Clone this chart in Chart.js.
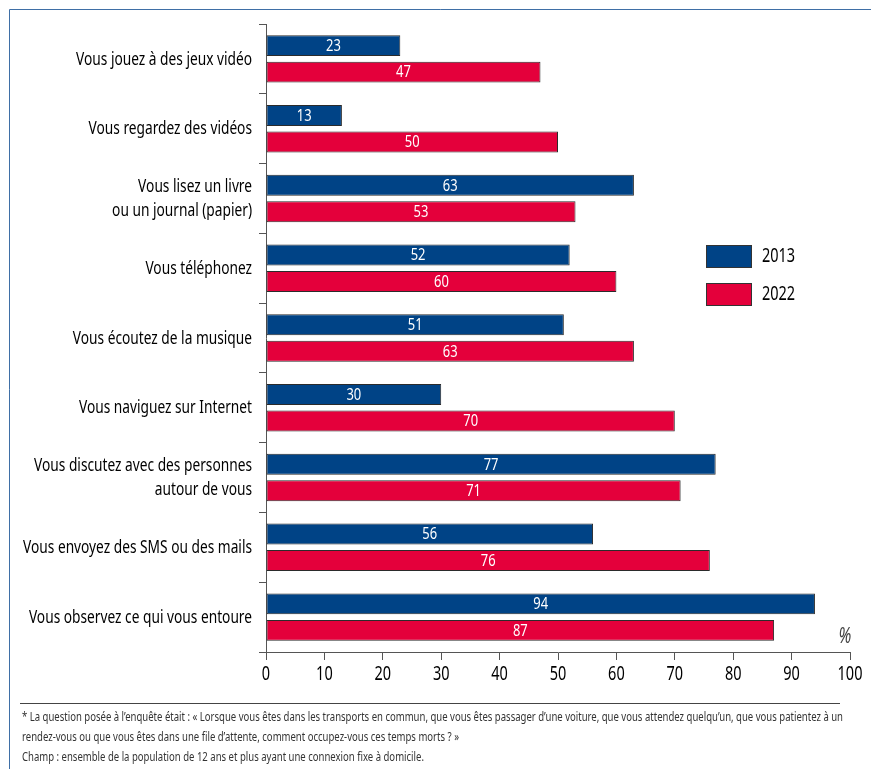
<!DOCTYPE html>
<html><head><meta charset="utf-8">
<script src="https://cdn.jsdelivr.net/npm/chart.js@4.4.1/dist/chart.umd.min.js"></script>
<style>html,body{margin:0;padding:0;background:#fff}#wrap{width:871px;height:769px;position:relative}canvas{display:block}</style>
</head><body><div id="wrap"><canvas id="c" width="871" height="769"></canvas></div>
<script>
const categories = [
  'Vous jouez à des jeux vidéo',
  'Vous regardez des vidéos',
  ['Vous lisez un livre', 'ou un journal (papier)'],
  'Vous téléphonez',
  'Vous écoutez de la musique',
  'Vous naviguez sur Internet',
  ['Vous discutez avec des personnes', 'autour de vous'],
  'Vous envoyez des SMS ou des mails',
  'Vous observez ce qui vous entoure'
];
const values2013 = [23, 13, 63, 52, 51, 30, 77, 56, 94];
const values2022 = [47, 50, 53, 60, 63, 70, 71, 76, 87];
const seriesLabels = ['2013', '2022'];
const seriesColors = ['#004386', '#e4003b'];
const xTickValues = [0, 10, 20, 30, 40, 50, 60, 70, 80, 90, 100];
const unitLabel = '%';
const footnotes = [
  '* La question posée à l\u2019enquête était : « Lorsque vous êtes dans les transports en commun, que vous êtes passager d\u2019une voiture, que vous attendez quelqu\u2019un, que vous patientez à un',
  'rendez-vous ou que vous êtes dans une file d\u2019attente, comment occupez-vous ces temps morts ? »',
  'Champ : ensemble de la population de 12 ans et plus ayant une connexion fixe à domicile.'
];

const FF = "'Noto Sans', 'DejaVu Sans', sans-serif";
let K = 0.72;   // horizontal condensing factor (computed at draw time)
let KF = 0.72;  // footnote condensing factor

function txt(ctx, s, x, y, font, color, align, k) {
  ctx.save();
  ctx.font = font;
  ctx.fillStyle = color;
  ctx.textAlign = align;
  ctx.textBaseline = 'middle';
  ctx.translate(x, y);
  ctx.scale(k, 1);
  ctx.fillText(s, 0, 0);
  ctx.restore();
}

const extras = {
  id: 'extras',
  beforeDraw(chart) {
    const ctx = chart.ctx;
    ctx.save();
    ctx.font = '18px ' + FF;
    K = 176 / ctx.measureText(categories[0]).width;
    ctx.font = '13px ' + FF;
    KF = 821 / ctx.measureText(footnotes[0]).width;
    ctx.restore();
  },
  afterDatasetsDraw(chart) {
    const ctx = chart.ctx;
    chart.data.datasets.forEach((ds, di) => {
      const meta = chart.getDatasetMeta(di);
      meta.data.forEach((el, i) => {
        txt(ctx, String(ds.data[i]), (el.x + el.base) / 2, el.y + 0.5, '17px ' + FF, '#ffffff', 'center', K);
      });
    });
  },
  afterDraw(chart) {
    const ctx = chart.ctx;
    const xs = chart.scales.x, ys = chart.scales.y;
    // y category labels
    categories.forEach((lab, i) => {
      const yc = ys.getPixelForTick(i);
      const lines = Array.isArray(lab) ? lab : [lab];
      const lh = 24;
      lines.forEach((ln, j) => {
        const y = yc - (lines.length - 1) * lh / 2 + j * lh;
        txt(ctx, ln, ys.right - 14, y + 0.5, '18px ' + FF, '#000', 'right', K);
      });
    });
    // x tick labels
    xs.ticks.forEach(t => {
      txt(ctx, String(t.value), xs.getPixelForValue(t.value), 675, '19px ' + FF, '#000', 'center', K);
    });
    ctx.save();
    // frame
    ctx.strokeStyle = '#3f6fa6';
    ctx.lineWidth = 1;
    ctx.beginPath();
    ctx.moveTo(9.5, 769); ctx.lineTo(9.5, 9.5); ctx.lineTo(871, 9.5);
    ctx.stroke();
    // legend
    chart.data.datasets.forEach((ds, i) => {
      const y = 245 + i * 38;
      ctx.fillStyle = ds.backgroundColor;
      ctx.fillRect(706, y, 46, 23);
      ctx.strokeStyle = '#333';
      ctx.strokeRect(706.5, y + 0.5, 45, 22);
      txt(ctx, ds.label, 762, y + 12, '19px ' + FF, '#000', 'left', K);
    });
    // footnote rule
    ctx.strokeStyle = '#444';
    ctx.beginPath();
    ctx.moveTo(20, 703.5); ctx.lineTo(840, 703.5);
    ctx.stroke();
    ctx.restore();
    // unit
    txt(ctx, unitLabel, xs.getPixelForValue(100) - 5, 637, 'italic 21px ' + FF, '#444', 'center', K);
    footnotes.forEach((t, i) => txt(ctx, t, 22, 717 + i * 20, '13px ' + FF, '#333', 'left', KF));
  }
};

new Chart(document.getElementById('c'), {
  type: 'bar',
  data: {
    labels: categories,
    datasets: [
      { label: seriesLabels[0], data: values2013, backgroundColor: seriesColors[0], borderColor: '#2b2b2b', borderWidth: 1, borderSkipped: false },
      { label: seriesLabels[1], data: values2022, backgroundColor: seriesColors[1], borderColor: '#2b2b2b', borderWidth: 1, borderSkipped: false }
    ]
  },
  options: {
    indexAxis: 'y',
    responsive: false,
    animation: false,
    devicePixelRatio: 1,
    categoryPercentage: 0.76,
    barPercentage: 0.79,
    layout: { padding: { top: 24, right: 21, left: 0, bottom: 0 } },
    plugins: { legend: { display: false }, tooltip: { enabled: false } },
    scales: {
      x: {
        type: 'linear', min: 0, max: 100,
        afterBuildTicks(s) { s.ticks = xTickValues.map(v => ({ value: v })); },
        afterFit(s) { s.height = 117; },
        grid: { drawOnChartArea: false, drawTicks: true, tickLength: 8, color: '#555' },
        border: { color: '#555' },
        ticks: { display: false }
      },
      y: {
        type: 'category',
        afterFit(s) { s.width = 266; },
        grid: { offset: true, drawOnChartArea: false, drawTicks: true, tickLength: 7, color: '#555' },
        border: { color: '#555' },
        ticks: { display: false, autoSkip: false }
      }
    }
  },
  plugins: [extras]
});
</script>
</body></html>
